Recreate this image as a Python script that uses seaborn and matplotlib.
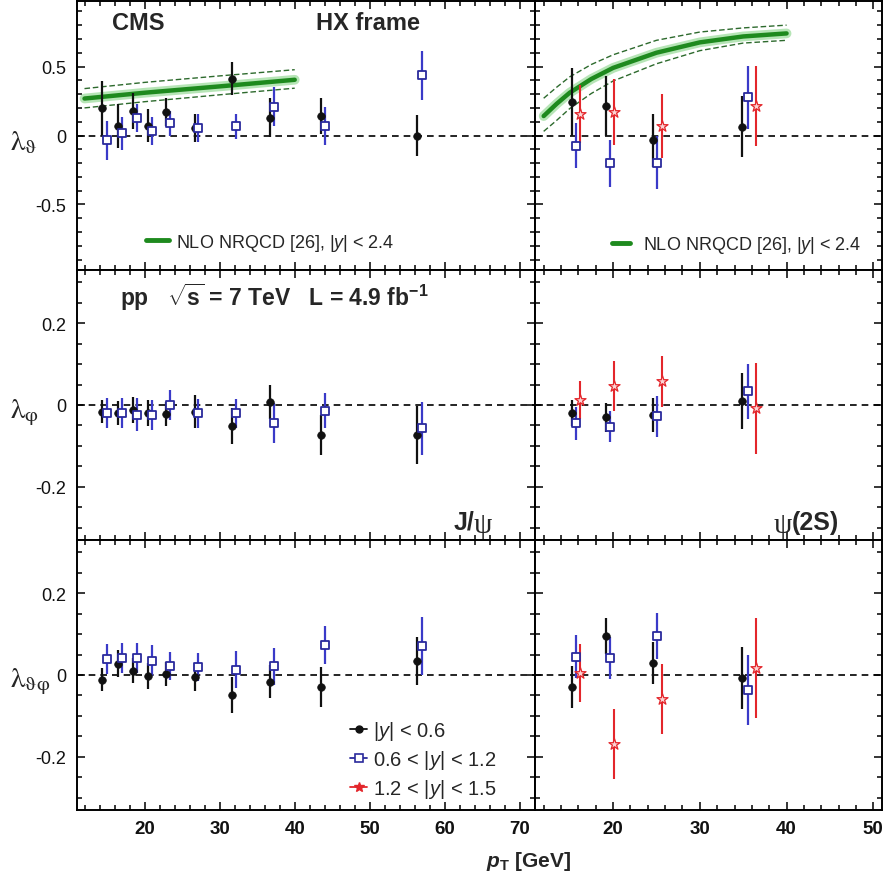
import matplotlib
matplotlib.use("Agg")
import numpy as np
import pandas as pd
import seaborn as sns
import matplotlib.pyplot as plt
from matplotlib.ticker import MultipleLocator, FuncFormatter
from matplotlib.lines import Line2D

# ---------------- J/psi : pT bin centres per rapidity range ----------------
pt_jpsi_y1 = [14.36, 16.47, 18.44, 20.46, 22.80, 26.65, 31.70, 36.74, 43.49, 56.33]
pt_jpsi_y2 = [15.00, 16.93, 18.94, 20.96, 23.35, 27.16, 32.20, 37.25, 44.04, 56.93]

# lambda_theta (HX)
lth_jpsi_y1 = [0.197, 0.068, 0.180, 0.070, 0.170, 0.056, 0.410, 0.130, 0.140, 0.000]
lth_jpsi_y1_err = [0.20, 0.16, 0.13, 0.12, 0.10, 0.10, 0.12, 0.14, 0.13, 0.15]
lth_jpsi_y2 = [-0.036, 0.015, 0.127, 0.032, 0.088, 0.056, 0.068, 0.210, 0.068, 0.435]
lth_jpsi_y2_err = [0.14, 0.12, 0.10, 0.10, 0.09, 0.10, 0.09, 0.14, 0.14, 0.18]

# lambda_phi
lph_jpsi_y1 = [-0.016, -0.020, -0.012, -0.020, -0.022, -0.016, -0.051, 0.007, -0.073, -0.073]
lph_jpsi_y1_err = [0.028, 0.030, 0.032, 0.032, 0.030, 0.040, 0.044, 0.042, 0.048, 0.070]
lph_jpsi_y2 = [-0.020, -0.020, -0.024, -0.024, 0.000, -0.020, -0.020, -0.044, -0.014, -0.057]
lph_jpsi_y2_err = [0.037, 0.037, 0.040, 0.037, 0.037, 0.035, 0.035, 0.050, 0.043, 0.065]

# lambda_thetaphi
ltp_jpsi_y1 = [-0.012, 0.027, 0.011, -0.003, 0.002, -0.006, -0.049, -0.016, -0.029, 0.034]
ltp_jpsi_y1_err = [0.028, 0.033, 0.031, 0.032, 0.029, 0.033, 0.043, 0.040, 0.048, 0.059]
ltp_jpsi_y2 = [0.040, 0.042, 0.041, 0.035, 0.022, 0.019, 0.013, 0.021, 0.074, 0.071]
ltp_jpsi_y2_err = [0.037, 0.037, 0.037, 0.038, 0.035, 0.034, 0.045, 0.046, 0.047, 0.070]

# ---------------- psi(2S) ----------------
pt_psi_y1 = [15.25, 19.20, 24.56, 34.83]
pt_psi_y2 = [15.75, 19.70, 25.10, 35.60]
pt_psi_y3 = [16.20, 20.15, 25.67, 36.50]

lth_psi_y1 = [0.245, 0.215, -0.035, 0.065]
lth_psi_y1_err = [0.245, 0.215, 0.19, 0.22]
lth_psi_y2 = [-0.073, -0.200, -0.196, 0.277]
lth_psi_y2_err = [0.16, 0.17, 0.19, 0.23]
lth_psi_y3 = [0.153, 0.170, 0.068, 0.214]
lth_psi_y3_err = [0.21, 0.24, 0.23, 0.29]

lph_psi_y1 = [-0.020, -0.030, -0.024, 0.010]
lph_psi_y1_err = [0.032, 0.036, 0.041, 0.068]
lph_psi_y2 = [-0.045, -0.053, -0.027, 0.034]
lph_psi_y2_err = [0.040, 0.038, 0.050, 0.067]
lph_psi_y3 = [0.013, 0.047, 0.058, -0.008]
lph_psi_y3_err = [0.046, 0.061, 0.063, 0.111]

ltp_psi_y1 = [-0.030, 0.096, 0.030, -0.007]
ltp_psi_y1_err = [0.051, 0.044, 0.051, 0.075]
ltp_psi_y2 = [0.045, 0.042, 0.095, -0.037]
ltp_psi_y2_err = [0.053, 0.052, 0.056, 0.086]
ltp_psi_y3 = [0.005, -0.169, -0.059, 0.017]
ltp_psi_y3_err = [0.070, 0.086, 0.086, 0.122]

# ---------------- NLO NRQCD predictions for lambda_theta ----------------
nrqcd_jpsi_pt = [12, 20, 30, 40]
nrqcd_jpsi_mid = [0.268, 0.310, 0.356, 0.404]
nrqcd_jpsi_hi = [0.340, 0.385, 0.432, 0.477]
nrqcd_jpsi_lo = [0.200, 0.245, 0.295, 0.343]

nrqcd_psi_pt = [12, 13.5, 15, 17.5, 20, 25, 30, 35, 40]
nrqcd_psi_mid = [0.141, 0.230, 0.310, 0.410, 0.490, 0.600, 0.675, 0.718, 0.740]
nrqcd_psi_hi = [0.270, 0.350, 0.425, 0.515, 0.585, 0.690, 0.750, 0.780, 0.800]
nrqcd_psi_lo = [0.030, 0.110, 0.195, 0.305, 0.395, 0.520, 0.615, 0.670, 0.690]

legend_labels = [r"|$\mathsf{y}$| < 0.6", r"0.6 < |$\mathsf{y}$| < 1.2", r"1.2 < |$\mathsf{y}$| < 1.5"]
nrqcd_label = r"NLO NRQCD [26], |$\mathsf{y}$| < 2.4"

# ---------------- styling ----------------
sns.set_theme(style="ticks")
plt.rcParams["font.family"] = ["Liberation Sans", "DejaVu Sans"]
plt.rcParams["axes.unicode_minus"] = False
plt.rcParams["mathtext.fontset"] = "custom"
plt.rcParams["mathtext.rm"] = "Liberation Sans"
plt.rcParams["mathtext.bf"] = "Liberation Sans:bold"
plt.rcParams["mathtext.it"] = "Liberation Sans:italic:bold"
plt.rcParams["mathtext.sf"] = "Liberation Sans:italic"

BLACK = "#111111"
BLUE_M = "#2a2a9c"
BLUE_E = "#3a3ac8"
RED = "#e3262b"
GREEN = "#1e8a1e"
GREEN_GLOW = "#86d486"
GREEN_DASH = "#2d6a2d"

W, H = 886, 887
fig = plt.figure(figsize=(W / 100, H / 100), dpi=100)


def add_ax(x0, x1, y0, y1):
    return fig.add_axes([x0 / W, 1 - y1 / H, (x1 - x0) / W, (y1 - y0) / H])


cols = [(77, 535), (535, 882)]
rows = [(2, 271), (271, 541), (541, 811)]
xlims = [(11, 72), (11, 51)]
ylims = [(-0.975, 0.975), (-0.33, 0.33), (-0.33, 0.33)]
ymajor = [0.5, 0.2, 0.2]
yminor = [0.1, 0.05, 0.05]

axes = [[add_ax(c[0], c[1], r[0], r[1]) for c in cols] for r in rows]

fmt = FuncFormatter(lambda v, p: "%g" % (round(v, 3) + 0.0))

for i in range(3):
    for j in range(2):
        ax = axes[i][j]
        ax.set_xlim(*xlims[j])
        ax.set_ylim(*ylims[i])
        ax.xaxis.set_major_locator(MultipleLocator(10))
        ax.xaxis.set_minor_locator(MultipleLocator(2))
        ax.yaxis.set_major_locator(MultipleLocator(ymajor[i]))
        ax.yaxis.set_minor_locator(MultipleLocator(yminor[i]))
        ax.yaxis.set_major_formatter(fmt)
        ax.tick_params(which="both", direction="in", top=True, right=True,
                       bottom=True, left=True, color="black", width=1.1)
        ax.tick_params(which="major", length=6)
        ax.tick_params(which="minor", length=3.5)
        ax.tick_params(axis="y", labelsize=13, pad=8, labelcolor="#111111")
        ax.tick_params(axis="x", labelsize=13.5, pad=7, labelcolor="#111111")
        if i < 2:
            ax.tick_params(axis="x", labelbottom=False)
        if j == 1:
            ax.tick_params(axis="y", labelleft=False)
        for sp in ax.spines.values():
            sp.set_linewidth(1.4)
            sp.set_color("black")
        ax.set_facecolor("white")
        ax.axhline(0, color="black", lw=1.2, ls=(0, (4, 3)), zorder=1)


def draw_series(ax, pt, val, err, kind):
    df = pd.DataFrame({"pt": pt, "val": val, "err": err})
    if kind == "y1":
        ax.vlines(df["pt"], df["val"] - df["err"], df["val"] + df["err"],
                  colors=BLACK, lw=1.6, zorder=2)
        sns.scatterplot(data=df, x="pt", y="val", ax=ax, marker="o", s=30,
                        color=BLACK, edgecolor=BLACK, linewidth=0.5, zorder=4)
    elif kind == "y2":
        ax.vlines(df["pt"], df["val"] - df["err"], df["val"] + df["err"],
                  colors=BLUE_E, lw=1.6, zorder=2)
        sns.scatterplot(data=df, x="pt", y="val", ax=ax, marker="s", s=38,
                        facecolor="white", edgecolor=BLUE_M, linewidth=1.3, zorder=4)
    else:
        ax.vlines(df["pt"], df["val"] - df["err"], df["val"] + df["err"],
                  colors=RED, lw=1.5, zorder=2)
        sns.scatterplot(data=df, x="pt", y="val", ax=ax, marker="*", s=70,
                        facecolor="#fbd3d3", edgecolor=RED, linewidth=0.9, zorder=4)
    ax.set_xlabel("")
    ax.set_ylabel("")


def draw_band(ax, pt, mid, hi, lo):
    sns.lineplot(x=pt, y=mid, ax=ax, color=GREEN_GLOW, lw=7, alpha=0.6,
                 sort=False, estimator=None, zorder=1.5)
    sns.lineplot(x=pt, y=mid, ax=ax, color=GREEN, lw=3.2,
                 sort=False, estimator=None, zorder=1.6)
    for curve in (hi, lo):
        sns.lineplot(x=pt, y=curve, ax=ax, color=GREEN_DASH, lw=1.0,
                     linestyle=(0, (4, 2)), sort=False, estimator=None, zorder=1.6)
    ax.set_xlabel("")
    ax.set_ylabel("")


# J/psi column
draw_band(axes[0][0], nrqcd_jpsi_pt, nrqcd_jpsi_mid, nrqcd_jpsi_hi, nrqcd_jpsi_lo)
draw_series(axes[0][0], pt_jpsi_y1, lth_jpsi_y1, lth_jpsi_y1_err, "y1")
draw_series(axes[0][0], pt_jpsi_y2, lth_jpsi_y2, lth_jpsi_y2_err, "y2")
draw_series(axes[1][0], pt_jpsi_y1, lph_jpsi_y1, lph_jpsi_y1_err, "y1")
draw_series(axes[1][0], pt_jpsi_y2, lph_jpsi_y2, lph_jpsi_y2_err, "y2")
draw_series(axes[2][0], pt_jpsi_y1, ltp_jpsi_y1, ltp_jpsi_y1_err, "y1")
draw_series(axes[2][0], pt_jpsi_y2, ltp_jpsi_y2, ltp_jpsi_y2_err, "y2")

# psi(2S) column
draw_band(axes[0][1], nrqcd_psi_pt, nrqcd_psi_mid, nrqcd_psi_hi, nrqcd_psi_lo)
draw_series(axes[0][1], pt_psi_y1, lth_psi_y1, lth_psi_y1_err, "y1")
draw_series(axes[0][1], pt_psi_y2, lth_psi_y2, lth_psi_y2_err, "y2")
draw_series(axes[0][1], pt_psi_y3, lth_psi_y3, lth_psi_y3_err, "y3")
draw_series(axes[1][1], pt_psi_y1, lph_psi_y1, lph_psi_y1_err, "y1")
draw_series(axes[1][1], pt_psi_y2, lph_psi_y2, lph_psi_y2_err, "y2")
draw_series(axes[1][1], pt_psi_y3, lph_psi_y3, lph_psi_y3_err, "y3")
draw_series(axes[2][1], pt_psi_y1, ltp_psi_y1, ltp_psi_y1_err, "y1")
draw_series(axes[2][1], pt_psi_y2, ltp_psi_y2, ltp_psi_y2_err, "y2")
draw_series(axes[2][1], pt_psi_y3, ltp_psi_y3, ltp_psi_y3_err, "y3")

# bold tick numbers along the bottom row
for ax in axes[2]:
    for lab in ax.get_xticklabels():
        lab.set_fontweight("bold")


def fx(px):
    return px / W


def fy(py):
    return 1 - py / H


# NRQCD legends
nrqcd_handle = [Line2D([], [], color=GREEN, lw=3.5)]
axes[0][0].legend(nrqcd_handle, [nrqcd_label], loc="center left",
                  bbox_to_anchor=(fx(146), fy(243)), bbox_transform=fig.transFigure,
                  frameon=False, fontsize=13, handlelength=1.25, handletextpad=0.4,
                  borderpad=0, borderaxespad=0)
axes[0][1].legend(nrqcd_handle, [nrqcd_label], loc="center left",
                  bbox_to_anchor=(fx(612), fy(246)), bbox_transform=fig.transFigure,
                  frameon=False, fontsize=13, handlelength=1.0, handletextpad=0.7,
                  borderpad=0, borderaxespad=0)

# rapidity legend
rap_handles = [
    Line2D([], [], color=BLACK, marker="o", ms=5, lw=1.3),
    Line2D([], [], color=BLUE_M, marker="s", ms=5.5, mfc="white", mec=BLUE_M, mew=1.2, lw=1.3),
    Line2D([], [], color=RED, marker="*", ms=7, mfc=RED, mec=RED, lw=1.3),
]
axes[2][0].legend(rap_handles, legend_labels, loc="upper left",
                  bbox_to_anchor=(fx(350), fy(720)), bbox_transform=fig.transFigure,
                  frameon=False, fontsize=14.5, handlelength=0.85, handletextpad=0.3,
                  labelspacing=0.3, borderpad=0, borderaxespad=0)

# header texts
fig.text(fx(138), fy(24), "CMS", fontsize=17, fontweight="bold", ha="center", va="center")
fig.text(fx(368), fy(24), "HX frame", fontsize=17, fontweight="bold", ha="center", va="center")
fig.text(fx(120), fy(297), r"pp   $\mathbf{\sqrt{s}}$ = 7 TeV   L = 4.9 fb$^{\mathbf{-1}}$",
         fontsize=16.5, fontweight="bold", ha="left", va="center")

# particle labels
fig.text(fx(474), fy(523), "J/", fontsize=18, fontweight="bold", ha="right", va="center")
fig.text(fx(474), fy(526), "ψ", fontsize=21, family=["Liberation Serif", "DejaVu Serif"],
         ha="left", va="center")
fig.text(fx(792), fy(526), "ψ", fontsize=21, family=["Liberation Serif", "DejaVu Serif"],
         ha="right", va="center")
fig.text(fx(792), fy(523), "(2S)", fontsize=18, fontweight="bold", ha="left", va="center")

# axis titles
ylab_kw = dict(fontsize=21, ha="left", va="center", math_fontfamily="stix")
fig.text(fx(10), fy(142), r"$\mathrm{\lambda}_{\mathrm{\vartheta}}$", **ylab_kw)
fig.text(fx(10), fy(413), r"$\mathrm{\lambda}_{\mathrm{\varphi}}$", **ylab_kw)
fig.text(fx(10), fy(682), r"$\mathrm{\lambda}_{\mathrm{\vartheta\varphi}}$", **ylab_kw)

fig.text(fx(529), fy(862), r"$p_{\mathbf{T}}$ [GeV]", fontsize=15, fontweight="bold",
         ha="center", va="center")

fig.savefig("out.png", dpi=100, facecolor="white")
